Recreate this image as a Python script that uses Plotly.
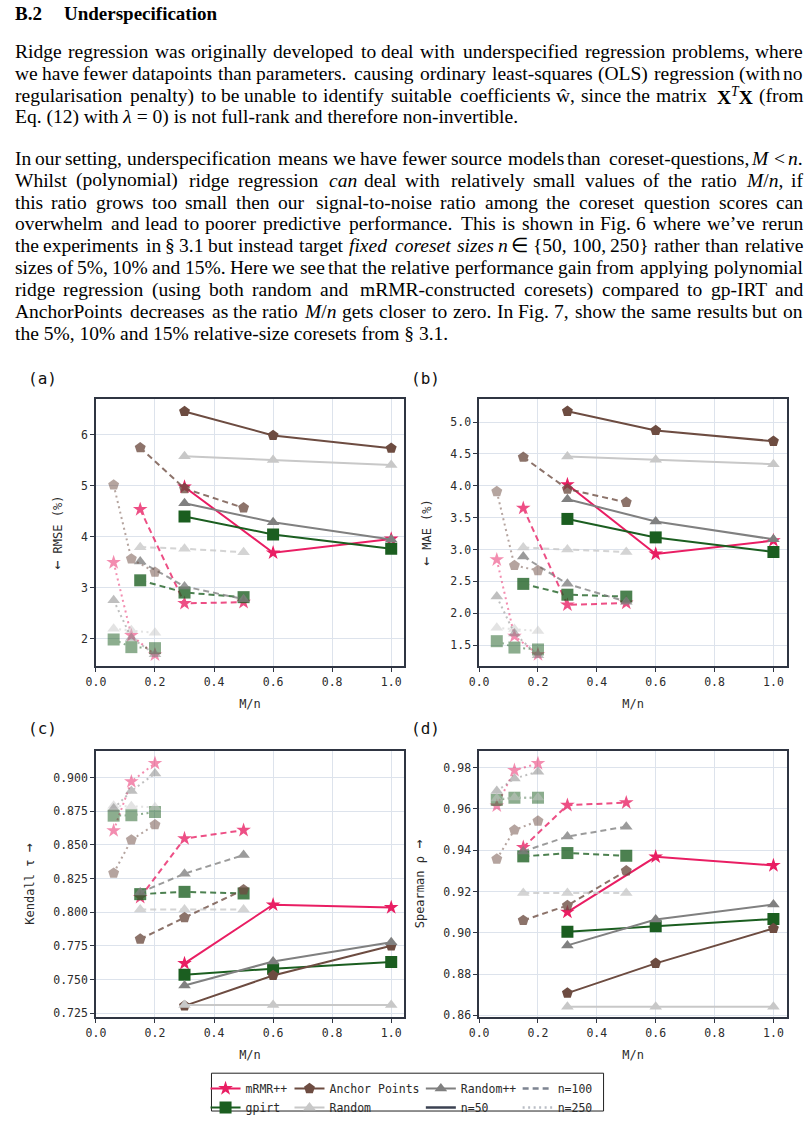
import re
import html
import plotly.graph_objects as go

# ---------------- data ----------------
x_n50 = [0.3, 0.6, 1.0]
x_n100 = [0.15, 0.3, 0.5]
x_n250 = [0.06, 0.12, 0.2]
n_sizes = [50, 100, 250]
methods = ["mRMR++", "gpirt", "Anchor Points", "Random", "Random++"]

# each list holds n=50 (3 values), then n=100 (3 values), then n=250 (3 values)
rmse_mrmr = [4.98, 3.69, 3.96, 4.54, 2.70, 2.72, 3.50, 2.07, 1.69]
rmse_gpirt = [4.40, 4.05, 3.77, 3.15, 2.91, 2.82, 1.99, 1.84, 1.82]
rmse_anchor = [6.46, 5.99, 5.74, 5.75, 4.95, 4.57, 5.02, 3.57, 3.31]
rmse_random = [5.58, 5.51, 5.41, 3.80, 3.77, 3.70, 2.20, 2.17, 2.12]
rmse_randompp = [4.66, 4.29, 3.95, 3.52, 3.03, 2.78, 2.76, 2.02, 1.70]

mae_mrmr = [4.02, 2.93, 3.14, 3.65, 2.13, 2.16, 2.84, 1.64, 1.35]
mae_gpirt = [3.48, 3.19, 2.96, 2.46, 2.29, 2.26, 1.56, 1.46, 1.43]
mae_anchor = [5.17, 4.87, 4.70, 4.45, 3.95, 3.74, 3.91, 2.75, 2.67]
mae_random = [4.46, 4.41, 4.34, 3.03, 3.00, 2.96, 1.77, 1.75, 1.72]
mae_randompp = [3.79, 3.44, 3.16, 2.89, 2.46, 2.18, 2.26, 1.68, 1.34]

kendall_mrmr = [0.762, 0.8055, 0.8035, 0.811, 0.8547, 0.8609, 0.8606, 0.897, 0.9106]
kendall_gpirt = [0.7536, 0.758, 0.763, 0.8134, 0.8151, 0.8139, 0.8717, 0.872, 0.8744]
kendall_anchor = [0.7304, 0.753, 0.775, 0.780, 0.796, 0.8166, 0.829, 0.8537, 0.865]
kendall_random = [0.731, 0.731, 0.731, 0.802, 0.802, 0.802, 0.879, 0.8786, 0.878]
kendall_randompp = [0.7455, 0.7634, 0.7777, 0.8146, 0.8286, 0.8424, 0.877, 0.890, 0.903]

spearman_mrmr = [0.910, 0.9368, 0.9326, 0.9414, 0.9618, 0.963, 0.9615, 0.9787, 0.982]
spearman_gpirt = [0.9005, 0.9032, 0.9067, 0.937, 0.9386, 0.9373, 0.9643, 0.9654, 0.9654]
spearman_anchor = [0.8708, 0.8852, 0.9021, 0.906, 0.9132, 0.930, 0.9357, 0.9498, 0.9541]
spearman_random = [0.8642, 0.8642, 0.8642, 0.9193, 0.9193, 0.9193, 0.965, 0.9655, 0.9655]
spearman_randompp = [0.8939, 0.9064, 0.9137, 0.9394, 0.9466, 0.9514, 0.9686, 0.9747, 0.978]

ARROW_DOWN = "<span style='font-size:15px'>←</span>"
ARROW_UP = "<span style='font-size:15px'>→</span>"
panel_titles = [ARROW_DOWN + " RMSE (%)", ARROW_DOWN + " MAE (%)",
                "Kendall τ " + ARROW_UP, "Spearman ρ " + ARROW_UP]
panel_labels = ["(a)", "(b)", "(c)", "(d)"]

heading_num = "B.2"
heading_txt = "Underspecification"
para1 = [
    "Ridge regression was originally developed to deal with underspecified regression problems, where",
    "we have fewer datapoints than parameters. causing ordinary least-squares (OLS) regression (with no",
    "regularisation penalty) to be unable to identify suitable coefficients ŵ, since the matrix <b>X</b><sup><i>T</i></sup><b>X</b> (from",
    "Eq. (12) with <i>λ</i> = 0) is not full-rank and therefore non-invertible.",
]
para2 = [
    "In our setting, underspecification means we have fewer source models than coreset-questions, <i>M</i> &lt; <i>n</i>.",
    "Whilst (polynomial) ridge regression <i>can</i> deal with relatively small values of the ratio <i>M</i>/<i>n</i>, if",
    "this ratio grows too small then our signal-to-noise ratio among the coreset question scores can",
    "overwhelm and lead to poorer predictive performance. This is shown in Fig. 6 where we’ve rerun",
    "the experiments in § 3.1 but instead target <i>fixed</i> <i>coreset</i> <i>sizes</i> <i>n</i> ∈ {50, 100, 250} rather than relative",
    "sizes of 5%, 10% and 15%. Here we see that the relative performance gain from applying polynomial",
    "ridge regression (using both random and mRMR-constructed coresets) compared to gp-IRT and",
    "AnchorPoints decreases as the ratio <i>M</i>/<i>n</i> gets closer to zero. In Fig. 7, show the same results but on",
    "the 5%, 10% and 15% relative-size coresets from § 3.1.",
]

# ---------------- styles ----------------
W, H = 808, 1122
MONO = "DejaVu Sans Mono"
SERIF = "Liberation Serif"
TXT = "#2b2b2b"
SPINE = "#2f3542"
GRID = "#dde3ec"

colors = {"mRMR++": "#E91E63", "gpirt": "#1B5E20", "Anchor Points": "#6D4C41",
          "Random": "#C8C8C8", "Random++": "#808080"}
symbols = {"mRMR++": "star", "gpirt": "square", "Anchor Points": "pentagon",
           "Random": "triangle-up", "Random++": "triangle-up"}
msizes = {"mRMR++": 11, "gpirt": 12, "Anchor Points": 11.5, "Random": 11, "Random++": 11}
n_dash = {50: "solid", 100: "6px,4px", 250: "2px,3.5px"}
n_opacity = {50: 1.0, 100: 0.78, 250: 0.5}
n_x = {50: x_n50, 100: x_n100, 250: x_n250}

metric_data = [
    {"mRMR++": rmse_mrmr, "gpirt": rmse_gpirt, "Anchor Points": rmse_anchor,
     "Random": rmse_random, "Random++": rmse_randompp},
    {"mRMR++": mae_mrmr, "gpirt": mae_gpirt, "Anchor Points": mae_anchor,
     "Random": mae_random, "Random++": mae_randompp},
    {"mRMR++": kendall_mrmr, "gpirt": kendall_gpirt, "Anchor Points": kendall_anchor,
     "Random": kendall_random, "Random++": kendall_randompp},
    {"mRMR++": spearman_mrmr, "gpirt": spearman_gpirt, "Anchor Points": spearman_anchor,
     "Random": spearman_random, "Random++": spearman_randompp},
]

# panel geometry (pixels)
px_left = [(87, 399), (475, 787), (87, 399), (475, 787)]
px_top = [(401, 669), (401, 669), (754, 1022), (754, 1022)]
y_ranges = [[1.47, 6.70], [1.17, 5.36], [0.7218, 0.9200], [0.8590, 0.9882]]
x_ranges = [[0, 1.0435], [0, 1.047], [0, 1.0435], [0, 1.047]]
y_dtick = [1, 0.5, 0.025, 0.02]
y_fmt = [".0f", ".1f", ".3f", ".2f"]
label_pos = [(33, 380), (421, 380), (33, 732), (421, 732)]

fig = go.Figure()

for k in range(4):
    sx = "" if k == 0 else str(k + 1)
    for n_i, n in enumerate(n_sizes):
        for m in methods:
            vals = metric_data[k][m][3 * n_i: 3 * n_i + 3]
            fig.add_trace(go.Scatter(
                x=n_x[n], y=vals, xaxis="x" + sx, yaxis="y" + sx,
                mode="lines+markers", showlegend=False, opacity=n_opacity[n],
                line=dict(color=colors[m], width=2, dash=n_dash[n]),
                marker=dict(symbol=symbols[m], size=msizes[m], color=colors[m], line=dict(width=0)),
                hoverinfo="skip",
            ))

# legend entries (four column legends)
legend_cols = [["mRMR++", "gpirt"], ["Anchor Points", "Random"], ["Random++", "n=50"], ["n=100", "n=250"]]
n_leg_style = {"n=50": ("#3b4252", "solid"), "n=100": ("#7d8491", "6px,4px"), "n=250": ("#b9bdc5", "2px,3.5px")}
for c, col in enumerate(legend_cols):
    lname = "legend" if c == 0 else "legend" + str(c + 1)
    for name in col:
        if name in colors:
            fig.add_trace(go.Scatter(
                x=[None], y=[None], name=name, legend=lname, mode="lines+markers",
                line=dict(color=colors[name], width=2),
                marker=dict(symbol=symbols[name], size=msizes[name], color=colors[name], line=dict(width=0)),
            ))
        else:
            col_, dash_ = n_leg_style[name]
            fig.add_trace(go.Scatter(
                x=[None], y=[None], name=name, legend=lname, mode="lines",
                line=dict(color=col_, width=2.5, dash=dash_),
            ))

layout = dict(width=W, height=H, margin=dict(l=0, r=0, t=0, b=0),
              paper_bgcolor="white", plot_bgcolor="white", showlegend=True)

for k in range(4):
    sx = "" if k == 0 else str(k + 1)
    xl, xr = px_left[k]
    yt, yb = px_top[k]
    layout["xaxis" + sx] = dict(
        domain=[xl / W, xr / W], range=x_ranges[k], anchor="y" + sx,
        tick0=0, dtick=0.2, tickformat=".1f", showgrid=True, gridcolor=GRID, gridwidth=1,
        zeroline=False, showline=True, linecolor=SPINE, linewidth=1.5, mirror=True,
        ticks="outside", ticklen=4, tickwidth=1.2, tickcolor=SPINE,
        tickfont=dict(family=MONO, size=11.5, color=TXT),
        title=dict(text="M/n", font=dict(family=MONO, size=12, color=TXT), standoff=12),
        fixedrange=True,
    )
    layout["yaxis" + sx] = dict(
        domain=[1 - yb / H, 1 - yt / H], range=y_ranges[k], anchor="x" + sx,
        tick0=0, dtick=y_dtick[k], tickformat=y_fmt[k], showgrid=True, gridcolor=GRID, gridwidth=1,
        zeroline=False, showline=True, linecolor=SPINE, linewidth=1.5, mirror=True,
        ticks="outside", ticklen=4, tickwidth=1.2, tickcolor=SPINE,
        tickfont=dict(family=MONO, size=11.5, color=TXT),
        title=dict(text=panel_titles[k], font=dict(family=MONO, size=12, color=TXT), standoff=16),
        fixedrange=True,
    )

leg_common = dict(orientation="v", yanchor="top", xanchor="left", bgcolor="rgba(0,0,0,0)",
                  borderwidth=0, font=dict(family=MONO, size=11.5, color=TXT),
                  tracegroupgap=0, itemwidth=30, y=1 - 1079 / H)
leg_x = [198, 283, 416, 514]
for c in range(4):
    lname = "legend" if c == 0 else "legend" + str(c + 1)
    layout[lname] = dict(x=leg_x[c] / W, **leg_common)

layout["shapes"] = [dict(type="rect", xref="paper", yref="paper",
                         x0=204 / W, x1=601 / W, y0=1 - 1116 / H, y1=1 - 1078 / H,
                         line=dict(color="#222222", width=1), fillcolor="rgba(0,0,0,0)")]

# ---------------- text ----------------
TW = {' ': 250, 'a': 444, 'b': 500, 'c': 444, 'd': 500, 'e': 444, 'f': 333, 'g': 500, 'h': 500,
      'i': 278, 'j': 278, 'k': 500, 'l': 278, 'm': 778, 'n': 500, 'o': 500, 'p': 500, 'q': 500,
      'r': 333, 's': 389, 't': 278, 'u': 500, 'v': 500, 'w': 722, 'x': 500, 'y': 500, 'z': 444,
      'A': 722, 'B': 667, 'C': 667, 'D': 722, 'E': 611, 'F': 556, 'G': 722, 'H': 722, 'I': 333,
      'J': 389, 'K': 722, 'L': 611, 'M': 889, 'N': 722, 'O': 722, 'P': 556, 'Q': 722, 'R': 667,
      'S': 556, 'T': 611, 'U': 722, 'V': 722, 'W': 944, 'X': 722, 'Y': 722, 'Z': 611,
      '.': 250, ',': 250, '(': 333, ')': 333, '-': 333, '%': 833, '{': 480, '}': 480,
      '’': 333, '§': 500, '=': 564, '<': 564, '/': 278, ':': 278, ';': 278, 'ŵ': 722,
      'λ': 550, '∈': 800, '+': 564}

FS = 19.5
WFIX = 1.045
LEFT, RIGHT = 5, 803


def text_width(s, fs):
    plain = html.unescape(re.sub(r"<[^>]+>", "", s))
    return sum(TW.get(ch, 500) for ch in plain) * fs / 1000.0 * WFIX


annotations = []


def ann(text, x, y, xanchor="left", size=FS, family=SERIF):
    annotations.append(dict(text=text, x=x / W, y=1 - y / H, xref="paper", yref="paper",
                            xanchor=xanchor, yanchor="middle", showarrow=False, borderpad=0,
                            borderwidth=0, font=dict(family=family, size=size, color="black")))


def add_line(text, y, justify=True):
    if not justify:
        ann(text, LEFT, y)
        return
    words = text.split(" ")
    widths = [text_width(w, FS) for w in words]
    n = len(words)
    gap = (RIGHT - LEFT - sum(widths)) / (n - 1)
    half = n // 2
    # left half placed from the left margin, right half placed from the right margin
    x = LEFT
    for i in range(half):
        ann(words[i], x, y, xanchor="left")
        x += widths[i] + gap
    x = RIGHT
    for i in range(n - 1, half - 1, -1):
        ann(words[i], x, y, xanchor="right")
        x -= widths[i] + gap


ann("<b>" + heading_num + "</b>", 5, 14, size=19)
ann("<b>" + heading_txt + "</b>", 55, 14, size=19)
for i, line in enumerate(para1):
    add_line(line, 52 + 22 * i, justify=(i < len(para1) - 1))
for i, line in enumerate(para2):
    add_line(line, 159 + 22 * i, justify=(i < len(para2) - 1))

for k in range(4):
    lx, ly = label_pos[k]
    annotations.append(dict(text=panel_labels[k], x=lx / W, y=1 - ly / H, xref="paper", yref="paper",
                            xanchor="center", yanchor="middle", showarrow=False,
                            font=dict(family=MONO, size=16, color="#111111")))

layout["annotations"] = annotations
fig.update_layout(**layout)

fig.write_html("out.html", include_plotlyjs=True, config={"displayModeBar": False})
